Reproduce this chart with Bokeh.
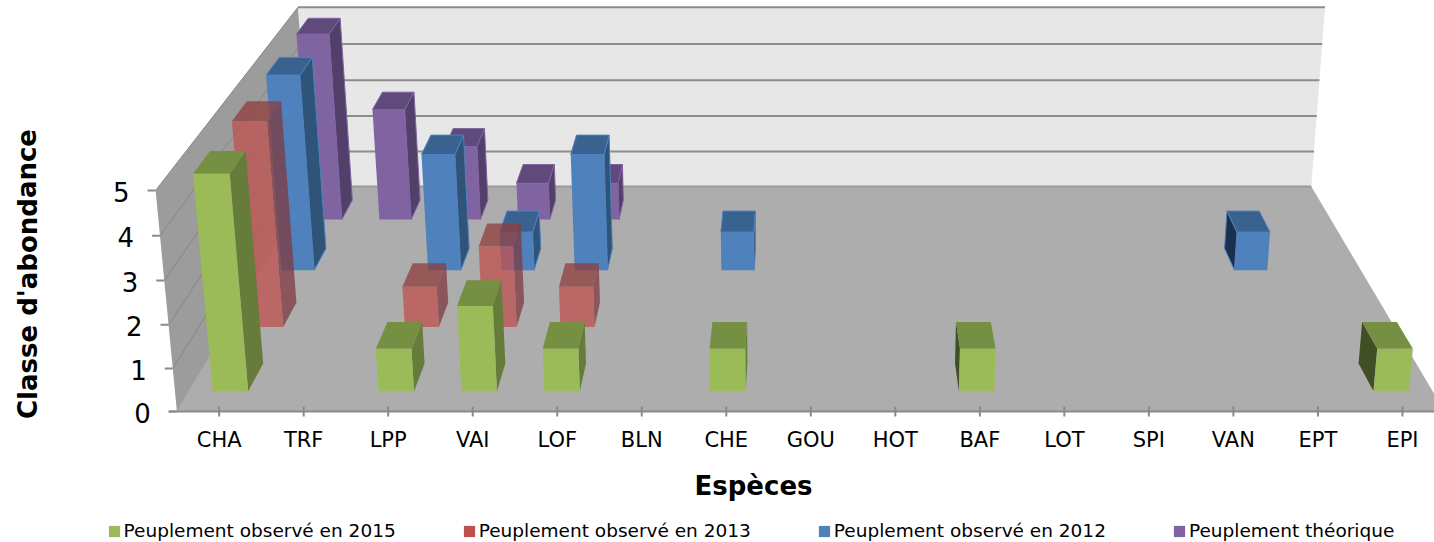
import math
from bokeh.core.properties import value
from bokeh.embed import file_html
from bokeh.layouts import column
from bokeh.models import FixedTicker, Legend, LegendItem, Range1d
from bokeh.plotting import figure
from bokeh.resources import INLINE

categories = ["CHA", "TRF", "LPP", "VAI", "LOF", "BLN", "CHE", "GOU", "HOT", "BAF", "LOT", "SPI", "VAN", "EPT", "EPI"]
obs_2015 = [5, 0, 1, 2, 1, 0, 1, 0, 0, 1, 0, 0, 0, 0, 1]
obs_2013 = [5, 0, 1, 2, 1, 0, 0, 0, 0, 0, 0, 0, 0, 0, 0]
obs_2012 = [5, 0, 3, 1, 3, 0, 1, 0, 0, 0, 0, 0, 0, 1, 0]
theorique = [5, 3, 2, 1, 1, 0, 0, 0, 0, 0, 0, 0, 0, 0, 0]
series_names = ["Peuplement observé en 2015", "Peuplement observé en 2013", "Peuplement observé en 2012", "Peuplement théorique"]
y_ticks = [0, 1, 2, 3, 4, 5]

# colours: front, top, right side, left side, alpha, edge
STY = [
    ("#9BBB59", "#769043", "#657C3B", "#414F24", 1.0, None),
    ("#C0504D", "#8F3E3C", "#7F3A40", "#5A2A2A", 0.75, None),
    ("#4F81BD", "#3A6290", "#2F5479", "#1B3050", 1.0, "#4F81BD"),
    ("#8064A2", "#604A7B", "#52406A", "#3A2D4C", 1.0, "#8064A2"),
]
LEGEND_COL = ["#9BBB59", "#C0504D", "#4F81BD", "#8064A2"]

# perspective model of the Excel 3-D chart (page pixels)
U0, DU = 176.4, 84.52
FLOOR_Y, VP_Z_X, VP_Z_Y, K = 411.0, 812.0, -655.0, 0.2674
VP_H_X, VP_H_Y, B = 800.0, 6890.0, 0.0066
ROW_Z0, ROW_STEP, BAR_DEPTH = 0.0725, 0.2495, 0.104
SY = 44.0
FRAME_BOTTOM = 430
STRIP_START = 424
PAGE_H = 542
STRIP_TOP = 454


def fx(px):
    return (px - U0) / DU


def fy(py):
    return (FLOOR_Y - py) / SY


def project(u, z, h):
    w0 = 1 + K * z
    s = 1 / w0
    gx = VP_Z_X + (U0 + DU * u - VP_Z_X) * s
    gy = VP_Z_Y + (FLOOR_Y - VP_Z_Y) * s
    d = w0 - B * h
    return ((gx * w0 - B * h * VP_H_X) / d, (gy * w0 - B * h * VP_H_Y) / d)


def poly(pts):
    p3 = [project(*q) for q in pts]
    return [fx(a) for a, _ in p3], [fy(b) for _, b in p3]


p = figure(
    width=1434, height=FRAME_BOTTOM, output_backend="svg", toolbar_location=None,
    x_range=Range1d(fx(0), fx(1434)), y_range=Range1d(fy(FRAME_BOTTOM), fy(0)),
    min_border=0, x_axis_location=None, y_axis_location=None, outline_line_color=None,
)
p.grid.visible = False


def patch(pts, color):
    xs, ys = poly(pts)
    p.patch(xs, ys, fill_color=color, line_color=None)


patch([(0, 0, 0), (15, 0, 0), (15, 1, 0), (0, 1, 0)], "#ADADAD")
patch([(0, 1, 0), (15, 1, 0), (15, 1, 5), (0, 1, 5)], "#E7E7E7")
patch([(0, 0, 0), (0, 1, 0), (0, 1, 5), (0, 0, 5)], "#9C9C9C")

gx, gy, wx, wy = [], [], [], []
for h in y_ticks[1:]:
    a, b = poly([(0, 0, h), (0, 1, h)])
    wx.append(a)
    wy.append(b)
    a, b = poly([(0, 1, h), (15, 1, h)])
    gx.append(a)
    gy.append(b)
p.multi_line(wx, wy, line_color="#868686", line_width=1)
p.multi_line(gx, gy, line_color="#8C8C8C", line_width=2)
a, b = poly([(0, 1, 0), (15, 1, 0)])
p.line(a, b, line_color="#9A9A9A", line_width=2)
a, b = poly([(0, 0, 0), (0, 1, 0)])
p.line(a, b, line_color="#A8A8A8", line_width=1)

# y ticks and labels, on the slanted front edge of the wall
tx, ty = [], []
lx, ly = [], []
for h in y_ticks:
    px, py = project(0, 0, h)
    tx.append([fx(px - 8), fx(px)])
    ty.append([fy(py), fy(py)])
    lx.append(fx(px - 26))
    ly.append(fy(py + 1.5))
p.multi_line(tx, ty, line_color="#8A8A8A", line_width=2)
p.text(lx, ly, text=[str(t) for t in y_ticks], text_font=value("DejaVu Sans"), text_font_size="26px",
       text_align="right", text_baseline="middle", text_color="#000000")

# bars, back row first
rows = [obs_2015, obs_2013, obs_2012, theorique]
all_fronts = {}
for i in reversed(range(4)):
    front, top, right, left, alpha, edge = STY[i]
    z0 = ROW_Z0 + ROW_STEP * i
    z1 = z0 + BAR_DEPTH
    w = 0.425 + 0.04 * z0
    sides = {"r": ([], []), "l": ([], [])}
    fronts, tops = ([], []), ([], [])
    for c, v in enumerate(rows[i]):
        if v <= 0:
            continue
        u0, u1 = c + 0.5 - w / 2, c + 0.5 + w / 2
        r_vis = project(u1, z1, 0)[0] > project(u1, z0, 0)[0]
        l_vis = project(u0, z1, 0)[0] < project(u0, z0, 0)[0]
        if r_vis:
            a, b = poly([(u1, z0, 0), (u1, z1, 0), (u1, z1, v), (u1, z0, v)])
            sides["r"][0].append(a)
            sides["r"][1].append(b)
        if l_vis:
            a, b = poly([(u0, z0, 0), (u0, z1, 0), (u0, z1, v), (u0, z0, v)])
            sides["l"][0].append(a)
            sides["l"][1].append(b)
        a, b = poly([(u0, z0, v), (u1, z0, v), (u1, z1, v), (u0, z1, v)])
        tops[0].append(a)
        tops[1].append(b)
        a, b = poly([(u0, z0, 0), (u1, z0, 0), (u1, z0, v), (u0, z0, v)])
        fronts[0].append(a)
        fronts[1].append(b)
    kw = dict(fill_alpha=alpha, line_color=edge, line_width=1)
    p.patches(*sides["r"], fill_color=right, **kw)
    p.patches(*sides["l"], fill_color=left, **kw)
    p.patches(*tops, fill_color=top, **kw)
    p.patches(*fronts, fill_color=front, fill_alpha=alpha, line_color=None)
    all_fronts[i] = fronts

# floor front edge and its ticks
a = [fx(168), fx(1434)]
p.line(a, [0, 0], line_color="#8A8A8A", line_width=2)
p.multi_line([[i + 0.5, i + 0.5] for i in range(len(categories))],
             [[fy(FLOOR_Y + 5), fy(FLOOR_Y - 5)] for _ in categories],
             line_color="#8A8A8A", line_width=2)

# value axis title
p.text([fx(27)], [fy(273.5)], text=["Classe d'abondance"], angle=[math.pi / 2],
       text_font=value("DejaVu Sans"), text_font_style="bold", text_font_size="26px",
       text_align="center", text_baseline="middle", text_color="#000000")

# lower strip: category labels, axis title, legend
q = figure(width=1434, height=PAGE_H - STRIP_START, output_backend="svg", toolbar_location=None,
           x_range=Range1d(fx(0), fx(1434)), y_range=Range1d(fy(PAGE_H), fy(STRIP_TOP)),
           min_border_left=0, min_border_right=0, min_border_bottom=0, min_border_top=STRIP_TOP - STRIP_START,
           x_axis_location="above", y_axis_location=None, outline_line_color=None,
           border_fill_alpha=0, background_fill_alpha=0, margin=(STRIP_START - FRAME_BOTTOM, 0, 0, 0))
q.grid.visible = False
ax = q.xaxis[0]
ax.ticker = FixedTicker(ticks=[i + 0.5 for i in range(len(categories))])
ax.major_label_overrides = {i + 0.5: c for i, c in enumerate(categories)}
ax.minor_tick_line_color = None
ax.major_tick_line_color = None
ax.major_tick_in = 0
ax.major_tick_out = 0
ax.axis_line_color = None
ax.major_label_text_font = "DejaVu Sans"
ax.major_label_text_font_size = "21px"
ax.major_label_text_color = "#000000"
ax.major_label_standoff = 3

q.text([fx(753)], [fy(485)], text=["Espèces"], text_font=value("DejaVu Sans"), text_font_style="bold",
       text_font_size="26px", text_align="center", text_baseline="middle", text_color="#000000")

items = []
for i, (name, col) in enumerate(zip(series_names, LEGEND_COL)):
    r = q.patches(*all_fronts[i], fill_color=col, line_color=None)
    items.append(LegendItem(label=name, renderers=[r]))
lg = Legend(items=items, orientation="horizontal", location=(106.6, 1), border_line_color=None,
            background_fill_alpha=0, glyph_width=14, glyph_height=14, label_standoff=3, spacing=66,
            padding=0, margin=0, label_text_font="DejaVu Sans", label_text_font_size="18.5px",
            label_text_color="#000000")
q.add_layout(lg, "center")

open("out.html", "w").write(file_html(column(p, q, spacing=0), INLINE))
